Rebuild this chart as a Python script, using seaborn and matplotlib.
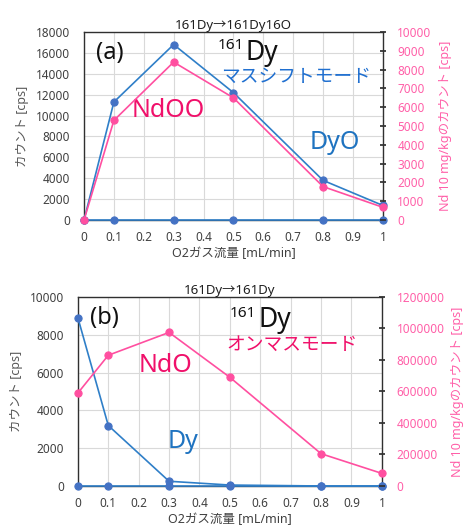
import matplotlib
matplotlib.use("Agg")
import matplotlib.pyplot as plt
import seaborn as sns
import pandas as pd

# ---- data ----
flow = [0, 0.1, 0.3, 0.5, 0.8, 1.0]
a_dyo = [0, 11300, 16800, 12200, 3800, 1400]
a_blank = [0, 0, 0, 0, 0, 0]
a_ndoo = [0, 5300, 8400, 6500, 1780, 680]

b_dy = [8900, 3200, 250, 50, 0, 0]
b_blank = [0, 0, 0, 0, 0, 0]
b_ndo = [590000, 830000, 975000, 690000, 205000, 80000]

xticks = [0, 0.1, 0.2, 0.3, 0.4, 0.5, 0.6, 0.7, 0.8, 0.9, 1]
xticklabels = ["0", "0.1", "0.2", "0.3", "0.4", "0.5", "0.6", "0.7", "0.8", "0.9", "1"]

sns.set_theme(style="white")
FAM = ["Noto Sans", "Noto Sans CJK JP", "DejaVu Sans"]
plt.rcParams["font.family"] = FAM

BLUE = "#2F7FC8"
BLUE_M = "#4472C4"
PINK = "#FF4FA0"
PINK_TXT = "#F0106A"
PINK_TICK = "#FF5FA8"
GRID = "#D9D9D9"
GRAYTXT = "#404040"

fig = plt.figure(figsize=(4.72, 5.29), dpi=100)

MS = 5.2


def draw(ax, y, color, mcolor):
    sns.lineplot(x=flow, y=y, ax=ax, color=color, marker="o", markersize=MS,
                 markerfacecolor=mcolor, markeredgecolor=mcolor, linewidth=1.2,
                 clip_on=False, zorder=5)


def setup(ax, ax2, ylim, yticks, y2lim, y2ticks, title):
    ax.set_xlim(0, 1)
    ax.set_ylim(*ylim)
    ax.set_yticks(yticks)
    ax.set_yticklabels([str(v) for v in yticks], fontsize=8.5, color=GRAYTXT)
    ax.set_xticks(xticks)
    ax.set_xticklabels(xticklabels, fontsize=8.5, color=GRAYTXT)
    ax.grid(True, color=GRID, linewidth=0.8)
    ax.set_axisbelow(True)
    ax.tick_params(axis="y", length=0, pad=10)
    ax.tick_params(axis="x", length=0, pad=8)
    ax.set_xlabel("O2ガス流量 [mL/min]", fontsize=9, color=GRAYTXT, labelpad=2)
    ax.set_ylabel("カウント [cps]", fontsize=9, color="#595959", labelpad=5)
    ax.set_title(title, fontsize=9.5, color="#202020", pad=1)
    for s in ax.spines.values():
        s.set_color("#303030")
        s.set_linewidth(1.0)
    ax2.set_ylim(*y2lim)
    ax2.set_yticks(y2ticks)
    ax2.set_yticklabels([str(v) for v in y2ticks], fontsize=8.5, color=PINK_TICK)
    ax2.tick_params(axis="y", direction="inout", length=5, color="#303030", pad=8)
    ax2.set_ylabel("Nd 10 mg/kgのカウント [cps]", fontsize=9, color=PINK_TICK, labelpad=5)
    ax2.grid(False)
    for s in ax2.spines.values():
        s.set_visible(False)


def dy_label(ax, x_sup, y_sup, x_dy, y_dy):
    ax.text(x_sup, y_sup, "161", fontsize=11, color="#111111", va="baseline", ha="left")
    ax.text(x_dy, y_dy, "Dy", fontsize=19, color="#111111", va="baseline", ha="left")


# ---- panel (a) ----
axa = fig.add_axes([0.178, 0.584, 0.633, 0.3555])
axa2 = axa.twinx()
draw(axa, a_blank, BLUE, BLUE_M)
draw(axa, a_dyo, BLUE, BLUE_M)
draw(axa2, a_ndoo, PINK, PINK)
setup(axa, axa2, (0, 18000), list(range(0, 18001, 2000)), (0, 10000),
      list(range(0, 10001, 1000)), "161Dy→161Dy16O")
axa.text(0.04, 16000, "(a)", fontsize=17, color="#111111", va="center", ha="left")
dy_label(axa, 0.448, 16370, 0.54, 15350)
axa.text(0.46, 13700, "マスシフトモード", fontsize=13.5, color="#1F6FD0", va="center", ha="left")
axa.text(0.16, 10500, "NdOO", fontsize=18, color=PINK_TXT, va="center", ha="left")
axa.text(0.755, 7400, "DyO", fontsize=18, color="#1F73C0", va="center", ha="left")

# ---- panel (b) ----
axb = fig.add_axes([0.165, 0.0813, 0.644, 0.3573])
axb2 = axb.twinx()
draw(axb, b_blank, BLUE, BLUE_M)
draw(axb, b_dy, BLUE, BLUE_M)
draw(axb2, b_ndo, PINK, PINK)
setup(axb, axb2, (0, 10000), list(range(0, 10001, 2000)), (0, 1200000),
      list(range(0, 1200001, 200000)), "161Dy→161Dy")
axb.text(0.04, 8900, "(b)", fontsize=17, color="#111111", va="center", ha="left")
dy_label(axb, 0.5, 8940, 0.595, 8410)
axb.text(0.49, 7450, "オンマスモード", fontsize=13.5, color=PINK_TXT, va="center", ha="left")
axb.text(0.2, 6350, "NdO", fontsize=18, color=PINK_TXT, va="center", ha="left")
axb.text(0.295, 2350, "Dy", fontsize=18, color="#1F73C0", va="center", ha="left")

fig.savefig("out.png", dpi=100)
